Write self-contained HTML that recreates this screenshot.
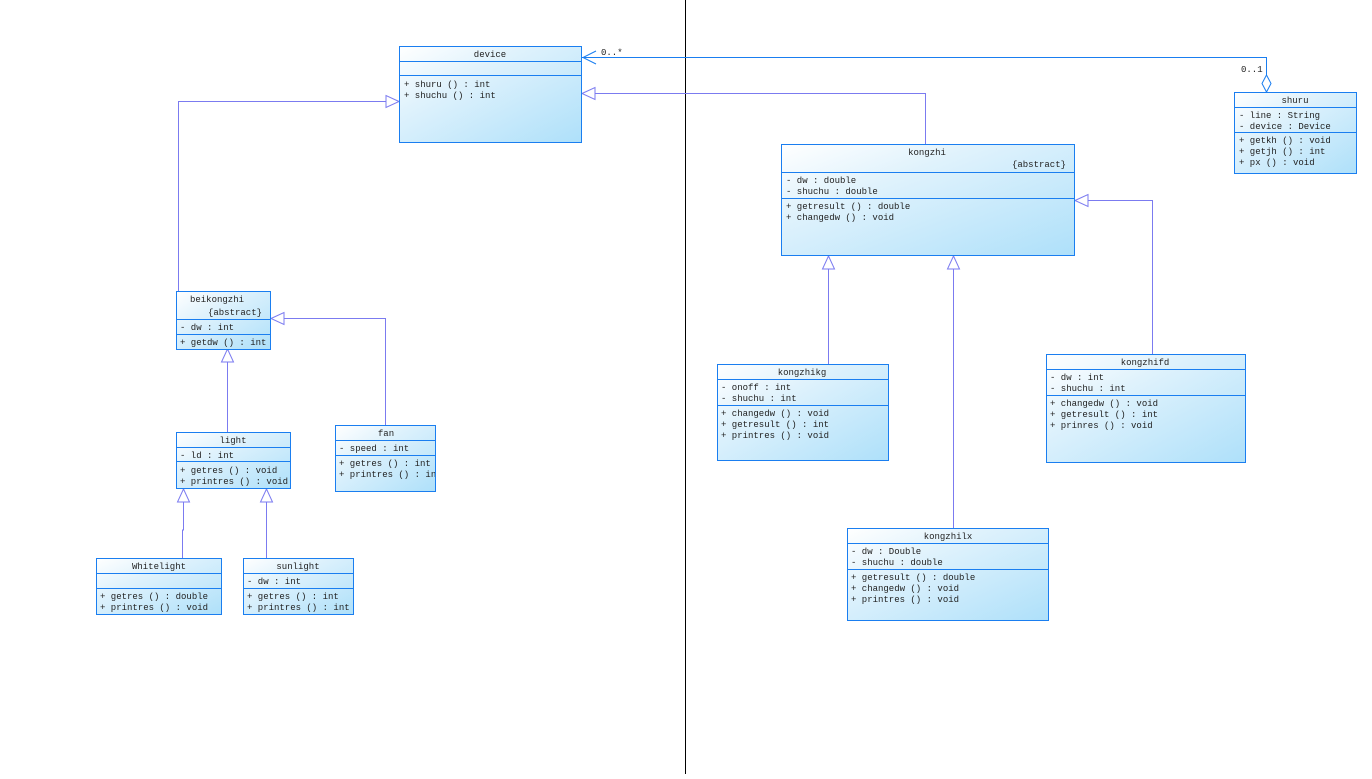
<!DOCTYPE html>
<html><head><meta charset="utf-8"><style>
html,body{margin:0;padding:0;background:#fff;}
svg text{font-family:"Liberation Mono","DejaVu Sans Mono",monospace;font-size:9px;fill:#222;}
</style></head><body>
<svg width="1372" height="774" viewBox="0 0 1372 774" xmlns="http://www.w3.org/2000/svg" xml:space="preserve">
<defs>
<linearGradient id="g" x1="0" y1="0" x2="1" y2="1">
<stop offset="0" stop-color="#ffffff"/><stop offset="0.35" stop-color="#dff2fc"/><stop offset="1" stop-color="#aee0fa"/>
</linearGradient>
<clipPath id="fanclip"><rect x="335" y="425" width="100" height="66"/></clipPath>
</defs>
<rect width="1372" height="774" fill="#fff"/>
<line x1="685.5" y1="0" x2="685.5" y2="774" stroke="#000" stroke-width="1"/>

<!-- connectors -->
<g stroke="#7b7bf0" stroke-width="1" fill="none">
<polyline points="925.5,144 925.5,93.5 595,93.5"/>
<polygon points="582,93.5 595,87.5 595,99.5" fill="#fff"/>
<polyline points="178.5,291 178.5,101.5 387,101.5"/>
<polygon points="399,101.5 386,95.5 386,107.5" fill="#fff"/>
<polyline points="385.5,425 385.5,318.5 283,318.5"/>
<polygon points="271,318.5 284,312.5 284,324.5" fill="#fff"/>
<line x1="227.5" y1="432" x2="227.5" y2="362"/>
<polygon points="227.5,349 221.5,362 233.5,362" fill="#fff"/>
<polyline points="182.5,558 182.5,530 183.5,530 183.5,502"/>
<polygon points="183.5,489 177.5,502 189.5,502" fill="#fff"/>
<line x1="266.5" y1="558" x2="266.5" y2="502"/>
<polygon points="266.5,489 260.5,502 272.5,502" fill="#fff"/>
<line x1="828.5" y1="364" x2="828.5" y2="269"/>
<polygon points="828.5,256 822.5,269 834.5,269" fill="#fff"/>
<line x1="953.5" y1="528" x2="953.5" y2="269"/>
<polygon points="953.5,256 947.5,269 959.5,269" fill="#fff"/>
<polyline points="1152.5,354 1152.5,200.5 1088,200.5"/>
<polygon points="1075,200.5 1088,194.5 1088,206.5" fill="#fff"/>
</g>
<g stroke="#1a7ef0" stroke-width="1" fill="none">
<polyline points="582,57.5 1266.5,57.5 1266.5,75"/>
<polyline points="596,51 583,57.5 596,64"/>
<polygon points="1266.5,75 1271,83.5 1266.5,92 1262,83.5" fill="#fff"/>
</g>
<text x="601" y="55">0..*</text>
<text x="1241" y="72">0..1</text>

<!-- device -->
<rect x="399.5" y="46.5" width="182" height="96" fill="url(#g)" stroke="#1a7ef0"/>
<line x1="399.5" y1="61.5" x2="581.5" y2="61.5" stroke="#1a7ef0"/>
<line x1="399.5" y1="75.5" x2="581.5" y2="75.5" stroke="#1a7ef0"/>
<text x="490" y="57" text-anchor="middle">device</text>
<text x="404" y="87">+  shuru ()   : int</text>
<text x="404" y="98">+  shuchu ()  : int</text>

<!-- shuru -->
<rect x="1234.5" y="92.5" width="122" height="81" fill="url(#g)" stroke="#1a7ef0"/>
<line x1="1234.5" y1="107.5" x2="1356.5" y2="107.5" stroke="#1a7ef0"/>
<line x1="1234.5" y1="132.5" x2="1356.5" y2="132.5" stroke="#1a7ef0"/>
<text x="1295" y="103" text-anchor="middle">shuru</text>
<text x="1239" y="118">-  line    : String</text>
<text x="1239" y="129">-  device  : Device</text>
<text x="1239" y="143">+  getkh ()  : void</text>
<text x="1239" y="154">+  getjh ()  : int</text>
<text x="1239" y="165">+  px ()     : void</text>

<!-- kongzhi -->
<rect x="781.5" y="144.5" width="293" height="111" fill="url(#g)" stroke="#1a7ef0"/>
<line x1="781.5" y1="172.5" x2="1074.5" y2="172.5" stroke="#1a7ef0"/>
<line x1="781.5" y1="198.5" x2="1074.5" y2="198.5" stroke="#1a7ef0"/>
<text x="927" y="155" text-anchor="middle">kongzhi</text>
<text x="1066" y="167" text-anchor="end">{abstract}</text>
<text x="786" y="183">-  dw      : double</text>
<text x="786" y="194">-  shuchu  : double</text>
<text x="786" y="209">+  getresult ()  : double</text>
<text x="786" y="220">+  changedw ()   : void</text>

<!-- beikongzhi -->
<rect x="176.5" y="291.5" width="94" height="58" fill="url(#g)" stroke="#1a7ef0"/>
<line x1="176.5" y1="319.5" x2="270.5" y2="319.5" stroke="#1a7ef0"/>
<line x1="176.5" y1="334.5" x2="270.5" y2="334.5" stroke="#1a7ef0"/>
<text x="217" y="302" text-anchor="middle">beikongzhi</text>
<text x="262" y="315" text-anchor="end">{abstract}</text>
<text x="180" y="330">-  dw  : int</text>
<text x="180" y="345">+  getdw ()  : int</text>

<!-- light -->
<rect x="176.5" y="432.5" width="114" height="56" fill="url(#g)" stroke="#1a7ef0"/>
<line x1="176.5" y1="447.5" x2="290.5" y2="447.5" stroke="#1a7ef0"/>
<line x1="176.5" y1="461.5" x2="290.5" y2="461.5" stroke="#1a7ef0"/>
<text x="233" y="443" text-anchor="middle">light</text>
<text x="180" y="458">-  ld  : int</text>
<text x="180" y="473">+  getres ()    : void</text>
<text x="180" y="484">+  printres ()  : void</text>

<!-- fan -->
<rect x="335.5" y="425.5" width="100" height="66" fill="url(#g)" stroke="#1a7ef0"/>
<line x1="335.5" y1="440.5" x2="435.5" y2="440.5" stroke="#1a7ef0"/>
<line x1="335.5" y1="455.5" x2="435.5" y2="455.5" stroke="#1a7ef0"/>
<text x="386" y="436" text-anchor="middle">fan</text>
<g clip-path="url(#fanclip)">
<text x="339" y="451">-  speed  : int</text>
<text x="339" y="466">+  getres ()    : int</text>
<text x="339" y="477">+  printres ()  : int</text>
</g>

<!-- Whitelight -->
<rect x="96.5" y="558.5" width="125" height="56" fill="url(#g)" stroke="#1a7ef0"/>
<line x1="96.5" y1="573.5" x2="221.5" y2="573.5" stroke="#1a7ef0"/>
<line x1="96.5" y1="588.5" x2="221.5" y2="588.5" stroke="#1a7ef0"/>
<text x="159" y="569" text-anchor="middle">Whitelight</text>
<text x="100" y="599">+  getres ()    : double</text>
<text x="100" y="610">+  printres ()  : void</text>

<!-- sunlight -->
<rect x="243.5" y="558.5" width="110" height="56" fill="url(#g)" stroke="#1a7ef0"/>
<line x1="243.5" y1="573.5" x2="353.5" y2="573.5" stroke="#1a7ef0"/>
<line x1="243.5" y1="588.5" x2="353.5" y2="588.5" stroke="#1a7ef0"/>
<text x="298" y="569" text-anchor="middle">sunlight</text>
<text x="247" y="584">-  dw  : int</text>
<text x="247" y="599">+  getres ()    : int</text>
<text x="247" y="610">+  printres ()  : int</text>

<!-- kongzhikg -->
<rect x="717.5" y="364.5" width="171" height="96" fill="url(#g)" stroke="#1a7ef0"/>
<line x1="717.5" y1="379.5" x2="888.5" y2="379.5" stroke="#1a7ef0"/>
<line x1="717.5" y1="405.5" x2="888.5" y2="405.5" stroke="#1a7ef0"/>
<text x="802" y="375" text-anchor="middle">kongzhikg</text>
<text x="721" y="390">-  onoff   : int</text>
<text x="721" y="401">-  shuchu  : int</text>
<text x="721" y="416">+  changedw ()   : void</text>
<text x="721" y="427">+  getresult ()  : int</text>
<text x="721" y="438">+  printres ()   : void</text>

<!-- kongzhifd -->
<rect x="1046.5" y="354.5" width="199" height="108" fill="url(#g)" stroke="#1a7ef0"/>
<line x1="1046.5" y1="369.5" x2="1245.5" y2="369.5" stroke="#1a7ef0"/>
<line x1="1046.5" y1="395.5" x2="1245.5" y2="395.5" stroke="#1a7ef0"/>
<text x="1145" y="365" text-anchor="middle">kongzhifd</text>
<text x="1050" y="380">-  dw      : int</text>
<text x="1050" y="391">-  shuchu  : int</text>
<text x="1050" y="406">+  changedw ()   : void</text>
<text x="1050" y="417">+  getresult ()  : int</text>
<text x="1050" y="428">+  prinres ()    : void</text>

<!-- kongzhilx -->
<rect x="847.5" y="528.5" width="201" height="92" fill="url(#g)" stroke="#1a7ef0"/>
<line x1="847.5" y1="543.5" x2="1048.5" y2="543.5" stroke="#1a7ef0"/>
<line x1="847.5" y1="569.5" x2="1048.5" y2="569.5" stroke="#1a7ef0"/>
<text x="948" y="539" text-anchor="middle">kongzhilx</text>
<text x="851" y="554">-  dw      : Double</text>
<text x="851" y="565">-  shuchu  : double</text>
<text x="851" y="580">+  getresult ()  : double</text>
<text x="851" y="591">+  changedw ()   : void</text>
<text x="851" y="602">+  printres ()   : void</text>
</svg>
</body></html>
